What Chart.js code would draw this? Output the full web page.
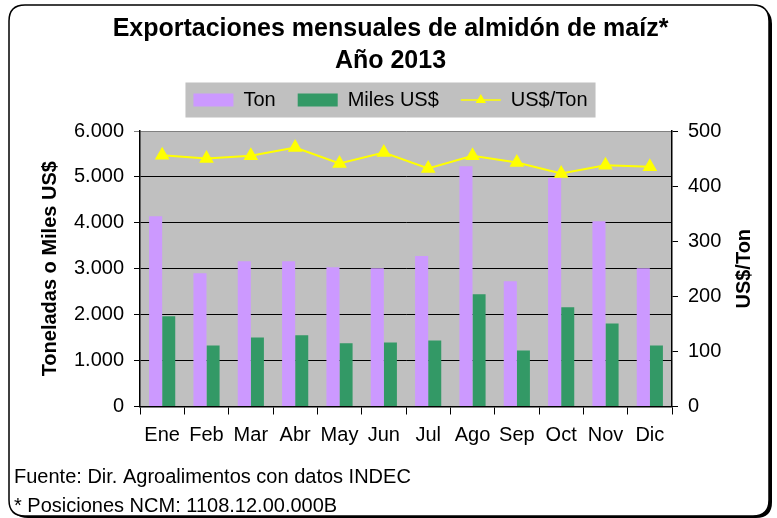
<!DOCTYPE html>
<html>
<head>
<meta charset="utf-8">
<script src="https://cdn.jsdelivr.net/npm/chart.js@4/dist/chart.umd.min.js"></script>
<style>
  html, body { margin: 0; padding: 0; background: #fff; }
  canvas { display: block; }
</style>
</head>
<body>
<canvas id="chart" width="777" height="518"></canvas>
<script>
const months = ['Ene', 'Feb', 'Mar', 'Abr', 'May', 'Jun', 'Jul', 'Ago', 'Sep', 'Oct', 'Nov', 'Dic'];
const ton = [4145, 2900, 3165, 3165, 3035, 3010, 3275, 5235, 2730, 4975, 4035, 3010];
const milesUS = [1965, 1330, 1505, 1550, 1375, 1395, 1440, 2445, 1220, 2160, 1810, 1330];
const usPerTon = [456, 450, 455, 470, 441, 461, 432, 455, 443, 423, 438, 435];
const leftTicks = ['0', '1.000', '2.000', '3.000', '4.000', '5.000', '6.000'];
const rightTicks = ['0', '100', '200', '300', '400', '500'];
const rightTitle = 'US$/Ton';

const FONT = '"Liberation Sans", Arial, sans-serif';
const SWATCH_W = 40;

function roundRect(ctx, x, y, w, h, r) {
    ctx.beginPath();
    ctx.moveTo(x + r, y);
    ctx.lineTo(x + w - r, y);
    ctx.quadraticCurveTo(x + w, y, x + w, y + r);
    ctx.lineTo(x + w, y + h - r);
    ctx.quadraticCurveTo(x + w, y + h, x + w - r, y + h);
    ctx.lineTo(x + r, y + h);
    ctx.quadraticCurveTo(x, y + h, x, y + h - r);
    ctx.lineTo(x, y + r);
    ctx.quadraticCurveTo(x, y, x + r, y);
    ctx.closePath();
}

// frame, plot background, legend background, right axis title
const backdrop = {
    id: 'backdrop',
    beforeLayout(chart) {
        // leave some room under the legend, like the original
        const lg = chart.legend;
        if (lg && !lg._extraRoom) {
            const fit = lg.fit.bind(lg);
            lg.fit = function() {
                fit();
                this.height += 11;
            };
            lg._extraRoom = true;
        }
    },
    beforeDraw(chart) {
        const ctx = chart.ctx;
        ctx.save();
        ctx.fillStyle = '#fff';
        ctx.fillRect(0, 0, chart.width, chart.height);
        ctx.fillStyle = '#000';
        roundRect(ctx, 12, 8, 760, 510, 16);
        ctx.fill();
        ctx.fillStyle = '#fff';
        ctx.strokeStyle = '#000';
        ctx.lineWidth = 1.5;
        roundRect(ctx, 9, 5, 760, 511, 16);
        ctx.fill();
        ctx.stroke();

        const a = chart.chartArea;
        ctx.fillStyle = '#c0c0c0';
        ctx.fillRect(a.left, a.top, a.right - a.left, a.bottom - a.top);

        const hb = chart.legend.legendHitBoxes;
        if (hb && hb.length) {
            const first = hb[0], last = hb[hb.length - 1];
            const cy = first.top + first.height / 2;
            ctx.fillStyle = '#c0c0c0';
            ctx.fillRect(first.left - 8, cy - 17.5, last.left + last.width - first.left + 16, 35);
        }
        ctx.restore();
    },
    afterDraw(chart) {
        const ctx = chart.ctx;
        const a = chart.chartArea;
        ctx.save();
        // right axis title, reading bottom to top
        ctx.translate(744, (a.top + a.bottom) / 2);
        ctx.rotate(-Math.PI / 2);
        ctx.fillStyle = '#000';
        ctx.font = 'bold 20px ' + FONT;
        ctx.textAlign = 'center';
        ctx.textBaseline = 'middle';
        ctx.fillText(rightTitle, 0, 0);
        ctx.restore();

        // line + triangle swatch for the US$/Ton legend entry
        const hb = chart.legend.legendHitBoxes;
        if (!hb || hb.length < 3) return;
        const b = hb[2];
        const cy = b.top + b.height / 2;
        ctx.save();
        ctx.strokeStyle = '#ffff00';
        ctx.lineWidth = 1.5;
        ctx.beginPath();
        ctx.moveTo(b.left, cy);
        ctx.lineTo(b.left + SWATCH_W, cy);
        ctx.stroke();
        const cx = b.left + SWATCH_W / 2, r = 6;
        ctx.fillStyle = '#ffff00';
        ctx.beginPath();
        ctx.moveTo(cx, cy - r);
        ctx.lineTo(cx + r * 0.866, cy + r / 2);
        ctx.lineTo(cx - r * 0.866, cy + r / 2);
        ctx.closePath();
        ctx.fill();
        ctx.restore();
    }
};

const ctx = document.getElementById('chart').getContext('2d');
new Chart(ctx, {
    type: 'bar',
    data: {
        labels: months,
        datasets: [
            {
                type: 'line',
                label: 'US$/Ton',
                data: usPerTon,
                yAxisID: 'y1',
                borderColor: '#ffff00',
                backgroundColor: '#ffff00',
                borderWidth: 2,
                pointStyle: 'triangle',
                pointRadius: 6.5,
                pointBackgroundColor: '#ffff00',
                pointBorderColor: '#ffff00',
                tension: 0,
                order: 0
            },
            {
                label: 'Ton',
                data: ton,
                backgroundColor: '#cc99ff',
                yAxisID: 'y',
                order: 1
            },
            {
                label: 'Miles US$',
                data: milesUS,
                backgroundColor: '#339966',
                yAxisID: 'y',
                order: 1
            }
        ]
    },
    options: {
        responsive: false,
        animation: false,
        datasets: {
            bar: { categoryPercentage: 0.59, barPercentage: 1.0 }
        },
        layout: { padding: { top: 8, left: 14, right: 10, bottom: 0 } },
        plugins: {
            title: {
                display: true,
                text: ['Exportaciones mensuales de almidón de maíz*', 'Año 2013'],
                color: '#000',
                font: { family: FONT, size: 25, weight: 'bold', lineHeight: 1.28 },
                padding: { top: 5, bottom: -9 }
            },
            subtitle: {
                display: true,
                position: 'bottom',
                align: 'start',
                text: ['Fuente: Dir. Agroalimentos con datos INDEC', '* Posiciones NCM: 1108.12.00.000B'],
                color: '#000',
                font: { family: FONT, size: 20, lineHeight: 1.45 },
                padding: { top: 7, bottom: -2.5 }
            },
            legend: {
                display: true,
                position: 'top',
                labels: {
                    color: '#000',
                    font: { family: FONT, size: 20 },
                    boxWidth: SWATCH_W,
                    boxHeight: 13,
                    padding: 22,
                    sort: (a, b) => [1, 2, 0].indexOf(a.datasetIndex) - [1, 2, 0].indexOf(b.datasetIndex),
                    generateLabels: function(chart) {
                        const items = Chart.defaults.plugins.legend.labels.generateLabels(chart);
                        items.forEach(it => {
                            it.lineWidth = 0;
                            if (it.datasetIndex === 0) {
                                it.fillStyle = 'rgba(0,0,0,0)';
                                it.strokeStyle = 'rgba(0,0,0,0)';
                            }
                        });
                        return items;
                    }
                }
            },
            tooltip: { enabled: false }
        },
        scales: {
            x: {
                grid: {
                    offset: true,
                    drawOnChartArea: false,
                    color: '#000',
                    tickLength: 8
                },
                border: { color: '#000', width: 1.5 },
                ticks: {
                    color: '#000',
                    font: { family: FONT, size: 20 },
                    padding: 8.5,
                    maxRotation: 0,
                    autoSkip: false
                }
            },
            y: {
                position: 'left',
                min: 0,
                max: 6000,
                afterFit: function(scale) { scale.width = 126; },
                grid: {
                    color: function(c) { return c.tick && c.tick.value === 6000 ? '#808080' : '#000'; },
                    lineWidth: 1,
                    tickLength: 6
                },
                border: { color: '#000', width: 1.5 },
                ticks: {
                    stepSize: 1000,
                    color: '#000',
                    font: { family: FONT, size: 20 },
                    padding: 10,
                    callback: function(value, index) { return leftTicks[index]; }
                },
                title: {
                    display: true,
                    text: 'Toneladas o Miles US$',
                    color: '#000',
                    font: { family: FONT, size: 20, weight: 'bold' },
                    padding: { top: 24, bottom: 0 }
                }
            },
            y1: {
                position: 'right',
                min: 0,
                max: 500,
                afterFit: function(scale) { scale.width = 95; },
                grid: {
                    drawOnChartArea: false,
                    color: '#000',
                    tickLength: 6
                },
                border: { color: '#000', width: 1.5 },
                ticks: {
                    stepSize: 100,
                    color: '#000',
                    font: { family: FONT, size: 20 },
                    padding: 10,
                    callback: function(value, index) { return rightTicks[index]; }
                }
            }
        }
    },
    plugins: [backdrop]
});
</script>
</body>
</html>
